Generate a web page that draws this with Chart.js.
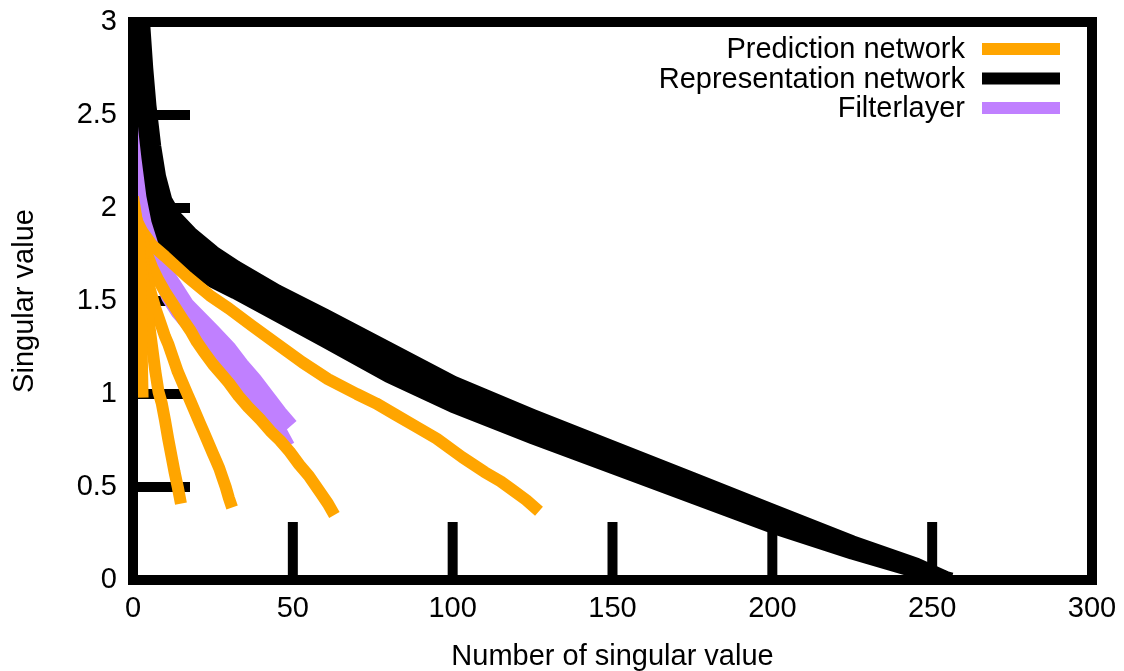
<!DOCTYPE html>
<html>
<head>
<meta charset="utf-8">
<script src="https://cdn.jsdelivr.net/npm/chart.js@4.4.1/dist/chart.umd.min.js"></script>
<style>
  html, body { margin: 0; padding: 0; background: #ffffff; }
  #wrap { width: 1124px; height: 671px; }
</style>
</head>
<body>
<div id="wrap"><canvas id="svChart"></canvas></div>
<script>
// Singular value spectra

const xTicks = [0, 50, 100, 150, 200, 250, 300];
const yTicks = [0, 0.5, 1, 1.5, 2, 2.5, 3];
const seriesNames = ['Prediction network', 'Representation network', 'Filterlayer'];

// Prediction network (orange), one curve per layer
const predA = [[0, 2.06], [1, 1.95], [2, 1.87], [3, 0.98]];
const predB = [[0, 1.97], [1, 1.87], [2, 1.76], [3, 1.64], [4, 1.51], [5, 1.38], [6, 1.25], [7, 1.12],
               [8, 1.01], [9, 0.95], [10, 0.86], [11, 0.76], [12, 0.67], [13, 0.58], [14, 0.5], [15, 0.41]];
const predC = [[0, 1.98], [1, 1.88], [2, 1.8], [3, 1.72], [4, 1.65], [5, 1.58], [6, 1.52], [7, 1.46],
               [8, 1.41], [9, 1.36], [10, 1.31], [11, 1.27], [12, 1.22], [13, 1.17], [14, 1.12], [15, 1.08],
               [16, 1.04], [17, 1.0], [18, 0.96], [19, 0.92], [20, 0.88], [21, 0.84], [22, 0.8], [23, 0.76],
               [24, 0.72], [25, 0.68], [26, 0.64], [27, 0.6], [28, 0.55], [29, 0.5], [30, 0.44], [31, 0.39]];
const predD = [[0, 2.02], [2, 1.87], [4, 1.77], [6, 1.68], [8, 1.61], [10, 1.55], [13, 1.47], [16, 1.39],
               [18, 1.34], [20, 1.28], [22, 1.23], [25, 1.16], [28, 1.1], [30, 1.06], [33, 0.99], [36, 0.93],
               [40, 0.86], [43, 0.8], [46, 0.75], [49, 0.69], [52, 0.62], [55, 0.56], [57, 0.51], [59, 0.46],
               [61, 0.41], [63, 0.35]];
const predE = [[0, 1.97], [3, 1.87], [6, 1.8], [10, 1.74], [17, 1.63], [24, 1.53], [30, 1.46], [37, 1.37],
               [45, 1.27], [53, 1.17], [61, 1.08], [70, 1.0], [76, 0.95], [82, 0.89], [88, 0.83], [95, 0.76],
               [103, 0.66], [110, 0.58], [115, 0.53], [119, 0.48], [123, 0.43], [127, 0.37]];

// Representation network (black), several runs forming a band
const reprUpper = [[1, 3.8], [2, 3.3], [3, 3.0], [4, 2.75], [5, 2.55], [6.5, 2.33], [8, 2.17], [10, 2.04],
                   [13, 1.95], [18, 1.86], [25, 1.76], [32, 1.68], [45, 1.55], [60, 1.42], [80, 1.24],
                   [100, 1.06], [125, 0.88], [150, 0.71], [175, 0.54], [200, 0.37], [225, 0.2], [245, 0.08], [254, 0.01]];
const reprMid = [[1, 3.6], [2, 3.15], [3, 2.85], [4, 2.6], [5, 2.42], [6.5, 2.2], [8, 2.05], [10, 1.93],
                 [13, 1.85], [18, 1.77], [25, 1.68], [32, 1.61], [45, 1.48], [60, 1.35], [80, 1.17],
                 [100, 1.0], [125, 0.82], [150, 0.66], [175, 0.5], [200, 0.33], [225, 0.18], [245, 0.07], [255, 0.0]];
const reprLower = [[1, 3.3], [2, 2.95], [3, 2.65], [4, 2.42], [5, 2.27], [6.5, 2.07], [8, 1.94], [10, 1.83],
                   [13, 1.76], [18, 1.69], [25, 1.61], [32, 1.55], [45, 1.43], [60, 1.29], [80, 1.1],
                   [100, 0.94], [125, 0.77], [150, 0.61], [175, 0.45], [200, 0.29], [225, 0.15], [245, 0.05], [256, 0.0]];

// Filterlayer (purple)
const filterA = [[0, 2.82], [1, 2.59], [2, 2.4], [3, 2.24], [4, 2.13], [6, 1.91], [8, 1.77], [11, 1.64],
                 [14, 1.56], [17, 1.48], [21, 1.41], [25, 1.34], [30, 1.25], [34, 1.16], [38, 1.08],
                 [42, 0.99], [46, 0.9], [49.5, 0.83]];
const filterB = [[0, 2.68], [1, 2.43], [2, 2.22], [3, 2.1], [4, 2.01], [6, 1.79], [8, 1.65], [11, 1.52],
                 [14, 1.44], [17, 1.38], [21, 1.31], [25, 1.24], [30, 1.15], [34, 1.06], [38, 0.98],
                 [42, 0.89], [46, 0.8], [48.5, 0.72]];

const ORANGE = '#ffa500';
const BLACK = '#000000';
const PURPLE = '#c080ff';
const FONT = 'Liberation Sans, Arial, Helvetica, sans-serif';

function curve(points, color, group, width) {
    return {
        label: seriesNames[group],
        data: points.map(p => ({ x: p[0], y: p[1] })),
        borderColor: color,
        backgroundColor: color,
        borderWidth: width,
        borderCapStyle: 'butt',
        borderJoinStyle: 'round',
        pointRadius: 0,
        tension: 0,
        fill: false
    };
}

const datasets = [
    curve(predA, ORANGE, 0, 12), curve(predB, ORANGE, 0, 12), curve(predC, ORANGE, 0, 12),
    curve(predD, ORANGE, 0, 12), curve(predE, ORANGE, 0, 12),
    curve(reprUpper, BLACK, 1, 15), curve(reprMid, BLACK, 1, 15), curve(reprLower, BLACK, 1, 15),
    curve(filterA, PURPLE, 2, 14), curve(filterB, PURPLE, 2, 14)
];

// gnuplot style frame: heavy border, long inward ticks, key at top right
const framePlugin = {
    id: 'frame',
    beforeDatasetsDraw(chart) {
        const { ctx, chartArea: a, scales } = chart;
        ctx.save();
        ctx.strokeStyle = BLACK;
        ctx.lineWidth = 10;
        ctx.lineCap = 'butt';
        scales.x.ticks.forEach(t => {
            const px = scales.x.getPixelForValue(t.value);
            ctx.beginPath();
            ctx.moveTo(px, a.bottom);
            ctx.lineTo(px, a.bottom - 58);
            ctx.stroke();
        });
        scales.y.ticks.forEach(t => {
            const py = scales.y.getPixelForValue(t.value);
            ctx.beginPath();
            ctx.moveTo(a.left, py);
            ctx.lineTo(a.left + 57, py);
            ctx.stroke();
        });
        ctx.restore();
    },
    afterDatasetsDraw(chart) {
        const { ctx, chartArea: a } = chart;
        ctx.save();
        ctx.strokeStyle = BLACK;
        ctx.lineWidth = 10;
        ctx.lineJoin = 'miter';
        ctx.strokeRect(a.left, a.top, a.right - a.left, a.bottom - a.top);

        // key
        const colors = [ORANGE, BLACK, PURPLE];
        ctx.font = '29px ' + FONT;
        ctx.textAlign = 'right';
        ctx.textBaseline = 'middle';
        seriesNames.forEach((name, i) => {
            const rowY = a.top + 27 + i * 29.5;
            ctx.fillStyle = BLACK;
            ctx.fillText(name, a.right - 127, rowY + 1);
            ctx.strokeStyle = colors[i];
            ctx.lineWidth = 12;
            ctx.beginPath();
            ctx.moveTo(a.right - 110, rowY);
            ctx.lineTo(a.right - 32, rowY);
            ctx.stroke();
        });
        ctx.restore();
    }
};

const ctx = document.getElementById('svChart');
const chart = new Chart(ctx, {
    type: 'line',
    data: { datasets: datasets },
    options: {
        responsive: true,
        maintainAspectRatio: false,
        devicePixelRatio: 1,
        animation: false,
        layout: { padding: { top: 22, right: 32, left: 0, bottom: 0 } },
        plugins: {
            legend: { display: false },
            tooltip: { enabled: false },
            title: { display: false }
        },
        scales: {
            x: {
                type: 'linear',
                min: 0,
                max: 300,
                afterBuildTicks: s => { s.ticks = xTicks.map(v => ({ value: v })); },
                afterFit: s => { s.height = 91; s.paddingLeft = 0; s.paddingRight = 0; },
                grid: { display: false, drawTicks: false },
                border: { display: false },
                ticks: { color: BLACK, padding: 12, maxRotation: 0, font: { family: FONT, size: 29 } },
                title: {
                    display: true,
                    text: 'Number of singular value',
                    color: BLACK,
                    padding: { top: 0, bottom: -3 },
                    font: { family: FONT, size: 29 }
                }
            },
            y: {
                type: 'linear',
                min: 0,
                max: 3,
                afterBuildTicks: s => { s.ticks = yTicks.map(v => ({ value: v })); },
                afterFit: s => { s.width = 133; s.paddingTop = 0; s.paddingBottom = 0; },
                grid: { display: false, drawTicks: false },
                border: { display: false },
                ticks: {
                    color: BLACK,
                    padding: 16,
                    font: { family: FONT, size: 29 },
                    callback: v => String(v)
                },
                title: {
                    display: true,
                    text: 'Singular value',
                    color: BLACK,
                    padding: { top: 8, bottom: 0 },
                    font: { family: FONT, size: 29 }
                }
            }
        }
    },
    plugins: [framePlugin]
});
</script>
</body>
</html>
